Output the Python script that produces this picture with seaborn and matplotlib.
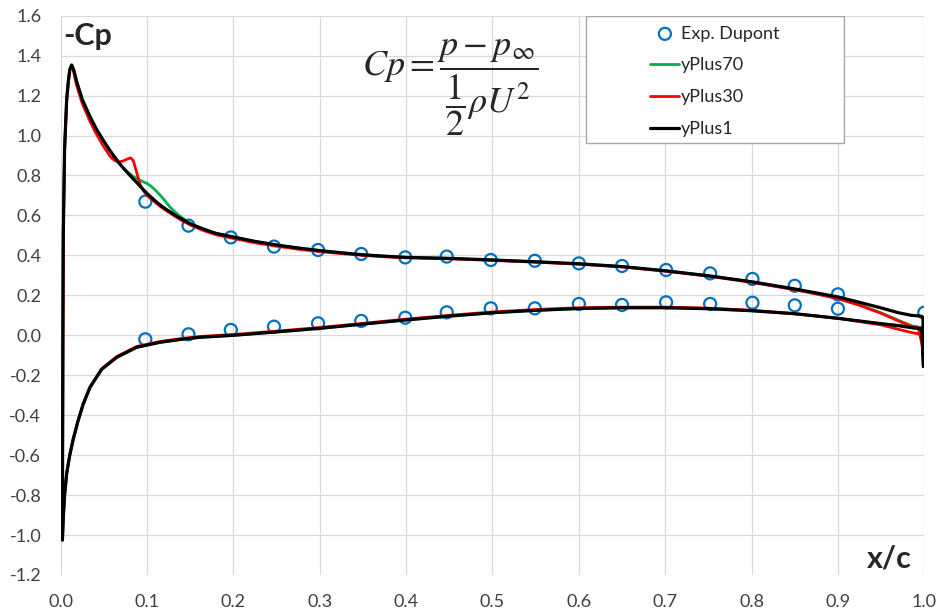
import matplotlib
matplotlib.use('Agg')
import matplotlib.pyplot as plt
from matplotlib.patches import Rectangle
import seaborn as sns

# experimental data (Dupont)
exp_x_upper = [0.098, 0.148, 0.197, 0.247, 0.298, 0.348, 0.399, 0.447, 0.498,
               0.549, 0.600, 0.650, 0.701, 0.752, 0.801, 0.850, 0.900, 1.000]
exp_cp_upper = [0.669, 0.549, 0.490, 0.444, 0.427, 0.407, 0.390, 0.394, 0.377,
                0.373, 0.360, 0.347, 0.327, 0.310, 0.282, 0.248, 0.205, 0.113]
exp_x_lower = [0.098, 0.148, 0.197, 0.247, 0.298, 0.348, 0.399, 0.447, 0.498,
               0.549, 0.600, 0.650, 0.701, 0.752, 0.801, 0.850, 0.900]
exp_cp_lower = [-0.020, 0.005, 0.027, 0.043, 0.060, 0.072, 0.088, 0.115, 0.135,
                0.135, 0.157, 0.152, 0.165, 0.157, 0.163, 0.150, 0.133]

# simulations, suction side (stagnation point -> trailing edge)
x_up = [0.002, 0.0022, 0.0025, 0.003, 0.0045, 0.0069, 0.0088, 0.0105, 0.0127, 0.015,
        0.0185, 0.025, 0.034, 0.041, 0.049, 0.057, 0.062, 0.067, 0.072, 0.077,
        0.081, 0.084, 0.088, 0.092, 0.096, 0.100, 0.105, 0.111, 0.117, 0.123,
        0.127, 0.133, 0.140, 0.150, 0.165, 0.180, 0.200, 0.225, 0.250, 0.275,
        0.300, 0.325, 0.350, 0.375, 0.400, 0.450, 0.500, 0.550, 0.600, 0.650,
        0.700, 0.750, 0.800, 0.850, 0.875, 0.900, 0.925, 0.950, 0.970, 0.985,
        0.993, 0.997, 0.9985, 0.999]
cp_up_y1 = [-1.025, -0.60, -0.10, 0.50, 0.93, 1.18, 1.27, 1.33, 1.353, 1.33,
            1.27, 1.18, 1.094, 1.035, 0.978, 0.925, 0.895, 0.866, 0.84, 0.816,
            0.797, 0.783, 0.765, 0.746, 0.728, 0.71, 0.69, 0.667, 0.646, 0.628,
            0.617, 0.60, 0.582, 0.558, 0.532, 0.51, 0.492, 0.47, 0.452, 0.437,
            0.424, 0.413, 0.403, 0.396, 0.39, 0.385, 0.377, 0.368, 0.358, 0.344,
            0.323, 0.298, 0.268, 0.232, 0.212, 0.192, 0.165, 0.137, 0.113, 0.10,
            0.097, 0.095, 0.09, -0.155]
cp_up_y70 = [-1.025, -0.60, -0.10, 0.50, 0.93, 1.18, 1.27, 1.33, 1.353, 1.33,
             1.27, 1.18, 1.094, 1.035, 0.978, 0.925, 0.895, 0.866, 0.84, 0.818,
             0.805, 0.795, 0.785, 0.776, 0.768, 0.76, 0.745, 0.72, 0.693, 0.661,
             0.64, 0.615, 0.59, 0.56, 0.532, 0.51, 0.492, 0.47, 0.452, 0.437,
             0.424, 0.413, 0.403, 0.396, 0.39, 0.385, 0.377, 0.368, 0.358, 0.344,
             0.323, 0.298, 0.268, 0.23, 0.208, 0.185, 0.152, 0.112, 0.075, 0.048,
             0.04, 0.035, -0.02, -0.08]
cp_up_y30 = [-1.025, -0.60, -0.10, 0.50, 0.93, 1.17, 1.26, 1.325, 1.35, 1.32,
             1.25, 1.16, 1.07, 1.01, 0.95, 0.897, 0.876, 0.868, 0.872, 0.882,
             0.888, 0.875, 0.815, 0.755, 0.722, 0.70, 0.682, 0.66, 0.64, 0.622,
             0.611, 0.594, 0.576, 0.552, 0.525, 0.503, 0.485, 0.463, 0.446, 0.431,
             0.419, 0.409, 0.40, 0.393, 0.388, 0.383, 0.375, 0.366, 0.356, 0.342,
             0.321, 0.296, 0.265, 0.228, 0.207, 0.183, 0.15, 0.11, 0.072, 0.045,
             0.037, -0.04, -0.08, -0.095]

# simulations, pressure side (stagnation point -> trailing edge)
x_low = [0.002, 0.0028, 0.0045, 0.007, 0.0105, 0.0145, 0.020, 0.026, 0.034, 0.0475,
         0.065, 0.088, 0.115, 0.140, 0.161, 0.200, 0.250, 0.300, 0.350, 0.400,
         0.450, 0.500, 0.550, 0.600, 0.650, 0.700, 0.750, 0.800, 0.850, 0.900,
         0.950, 0.970, 0.987, 0.997, 0.999]
cp_low_y1 = [-1.025, -0.93, -0.80, -0.69, -0.60, -0.52, -0.43, -0.345, -0.26, -0.17,
             -0.11, -0.06, -0.035, -0.02, -0.01, 0.0, 0.017, 0.035, 0.056, 0.077,
             0.096, 0.113, 0.125, 0.134, 0.138, 0.138, 0.133, 0.123, 0.108, 0.085,
             0.058, 0.048, 0.037, 0.033, -0.155]
cp_low_y70 = [-1.025, -0.93, -0.80, -0.69, -0.60, -0.52, -0.43, -0.345, -0.26, -0.17,
              -0.11, -0.06, -0.035, -0.02, -0.01, 0.0, 0.017, 0.035, 0.056, 0.077,
              0.096, 0.113, 0.125, 0.134, 0.138, 0.138, 0.133, 0.123, 0.108, 0.085,
              0.058, 0.05, 0.042, 0.04, -0.08]
cp_low_y30 = [-1.025, -0.93, -0.80, -0.69, -0.60, -0.52, -0.43, -0.345, -0.258, -0.167,
              -0.106, -0.056, -0.031, -0.016, -0.006, 0.004, 0.021, 0.039, 0.06, 0.081,
              0.1, 0.117, 0.129, 0.138, 0.141, 0.141, 0.136, 0.125, 0.108, 0.085,
              0.052, 0.03, 0.012, 0.005, -0.095]

x_ticks = [0.0, 0.1, 0.2, 0.3, 0.4, 0.5, 0.6, 0.7, 0.8, 0.9, 1.0]
y_ticks = [-1.2, -1.0, -0.8, -0.6, -0.4, -0.2, 0.0, 0.2, 0.4, 0.6, 0.8, 1.0, 1.2, 1.4, 1.6]

sns.set_style('white')
plt.rcParams['font.family'] = ['Lato', 'DejaVu Sans']
plt.rcParams['mathtext.fontset'] = 'stix'
plt.rcParams['axes.unicode_minus'] = False

fig = plt.figure(figsize=(9.38, 6.13), dpi=100)
ax = fig.add_axes([0.0647, 0.062, 0.9207, 0.9124])

# experiment
sns.scatterplot(x=exp_x_upper + exp_x_lower, y=exp_cp_upper + exp_cp_lower,
                marker='o', s=75, facecolor='none', edgecolor='#0070C0',
                linewidth=1.6, label='Exp. Dupont', ax=ax, zorder=2)


def closed(cp_up, cp_low):
    # pressure side reversed, then suction side
    xs = x_low[::-1] + x_up[1:]
    ys = cp_low[::-1] + cp_up[1:]
    return xs, ys


series = [('yPlus70', cp_up_y70, cp_low_y70, '#00B050', 2.0),
          ('yPlus30', cp_up_y30, cp_low_y30, '#FF0000', 2.0),
          ('yPlus1', cp_up_y1, cp_low_y1, '#000000', 2.3)]
for name, up, low, col, lw in series:
    xs, ys = closed(up, low)
    sns.lineplot(x=xs, y=ys, sort=False, estimator=None, color=col, lw=lw,
                 label=name, ax=ax, zorder=3)

ax.set_xlim(0, 1)
ax.set_ylim(-1.2, 1.6)
ax.set_xticks(x_ticks, ['%.1f' % v for v in x_ticks])
ax.set_yticks(y_ticks, ['%.1f' % v for v in y_ticks])
ax.grid(True, color='#d9d9d9', lw=0.9)
ax.set_axisbelow(True)
for sp in ax.spines.values():
    sp.set_visible(False)
ax.tick_params(length=0, pad=14, labelsize=13, labelcolor='#404040')
ax.set_xlabel('')
ax.set_ylabel('')

ax.text(0.003, 0.988, '-Cp', transform=ax.transAxes, ha='left', va='top',
        fontsize=22, fontweight='bold')
ax.text(0.985, 0.014, 'x/c', transform=ax.transAxes, ha='right', va='baseline',
        fontsize=22, fontweight='bold')
ax.text(0.349, 0.872, r'$Cp=\dfrac{p-p_{\infty}}{\dfrac{1}{2}\rho U^{2}}$',
        transform=ax.transAxes, ha='left', va='center', fontsize=26)

# legend box
ax.add_patch(Rectangle((0.608, 0.772), 0.299, 0.228, transform=ax.transAxes,
                       facecolor='white', edgecolor='#a6a6a6', lw=1.0, zorder=5))
h, l = ax.get_legend_handles_labels()
leg = ax.legend(h, l, loc='center', bbox_to_anchor=(0.7577, 0.8825), frameon=False,
                fontsize=13, handlelength=1.6, handletextpad=0.1, labelspacing=0.88,
                borderpad=0)
leg.set_zorder(6)

fig.savefig('out.png', dpi=100)
